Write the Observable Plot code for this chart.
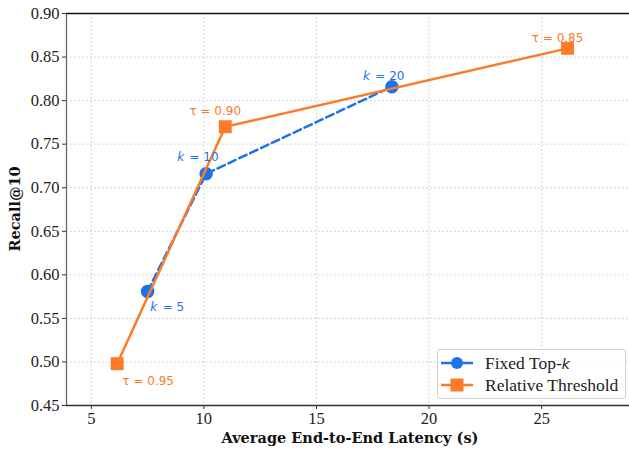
<!DOCTYPE html>
<html>
<head>
<meta charset="utf-8">
<script src="https://cdn.jsdelivr.net/npm/d3@7"></script>
<script src="https://cdn.jsdelivr.net/npm/@observablehq/plot@0.6"></script>
<style>
  html, body { margin: 0; padding: 0; background: #fff; }
  #wrap { position: relative; width: 629px; height: 449px; }
  #legend {
    position: absolute; left: 437px; top: 349px; width: 189px; height: 50px;
    border: 1px solid #d0d0d0; border-radius: 3px; background: rgba(255,255,255,0.85);
    font-family: "Liberation Serif", serif; font-size: 17.5px; color: #222; box-sizing: border-box;
  }
  .row { position: absolute; left: 3px; height: 20px; display: flex; align-items: center; }
  .row svg { margin-right: 12px; }
</style>
</head>
<body>
<div id="wrap"></div>
<script>
const seriesNames = ["Fixed Top-k", "Relative Threshold"];
const topkLatency = [7.5, 10.1, 18.35];
const topkRecall = [0.581, 0.716, 0.816];
const topkLabels = ["k = 5", "k = 10", "k = 20"];
const thrLatency = [6.15, 10.95, 26.15];
const thrRecall = [0.498, 0.770, 0.860];
const thrLabels = ["τ = 0.95", "τ = 0.90", "τ = 0.85"];
const xTicks = [5, 10, 15, 20, 25];
const yTicks = [0.45, 0.50, 0.55, 0.60, 0.65, 0.70, 0.75, 0.80, 0.85, 0.90];

const blue = "#1a73e8";
const orange = "#fb7b28";

const topk = topkLatency.map((x, i) => ({x, y: topkRecall[i], label: topkLabels[i]}));
const thr = thrLatency.map((x, i) => ({x, y: thrRecall[i], label: thrLabels[i]}));

// label placement offsets (style only)
const topkDx = [20, -8, -8];
const topkDy = [16, -17, -11];
const thrDx = [31, -10, -10];
const thrDy = [17, -16, -10];

const serif = "'Liberation Serif', serif";
const boldSerif = "'DejaVu Serif', serif";
const sans = "'DejaVu Sans', sans-serif";

const chart = Plot.plot({
  width: 629,
  height: 449,
  marginLeft: 66,
  marginRight: 0,
  marginTop: 13,
  marginBottom: 44,
  style: {fontFamily: serif, fontSize: "16.5px", color: "#222", background: "#fff"},
  x: {domain: [3.9, 28.9], ticks: xTicks, tickFormat: d => String(d)},
  y: {domain: [0.45, 0.90], ticks: yTicks, tickFormat: d3.format(".2f")},
  marks: [
    Plot.gridX(xTicks, {stroke: "#c8c8c8", strokeOpacity: 1, strokeDasharray: "1.5,2.5", strokeWidth: 1}),
    Plot.gridY(yTicks, {stroke: "#c8c8c8", strokeOpacity: 1, strokeDasharray: "1.5,2.5", strokeWidth: 1}),
    Plot.axisX(xTicks, {tickSize: 4, tickPadding: 3, fontSize: 16.5, fontFamily: serif, label: null, stroke: "#333", fill: "#222"}),
    Plot.axisY(yTicks, {tickSize: 4, tickPadding: 3, fontSize: 16.5, fontFamily: serif, label: null, stroke: "#333", fill: "#222"}),
    Plot.ruleX([3.9], {stroke: "#666", strokeWidth: 1.3}),
    Plot.ruleY([0.45], {stroke: "#333", strokeWidth: 1.3}),
    Plot.ruleY([0.90], {stroke: "#111", strokeWidth: 1.3}),
    Plot.line(topk, {x: "x", y: "y", stroke: blue, strokeWidth: 2.5, strokeDasharray: "8,4"}),
    Plot.dot(topk, {x: "x", y: "y", r: 6, fill: blue, stroke: blue, symbol: "circle"}),
    Plot.line(thr, {x: "x", y: "y", stroke: orange, strokeWidth: 2.5}),
    Plot.dot(thr, {x: "x", y: "y", r: 7.3, fill: orange, symbol: "square"}),
    ...topk.map((d, i) => Plot.text([d], {x: "x", y: "y", text: d => d.label.replace("k", ""), dx: topkDx[i] + 4, dy: topkDy[i], fill: blue, fontFamily: sans, fontSize: 12})),
    ...topk.map((d, i) => Plot.text([d], {x: "x", y: "y", text: () => "k", dx: topkDx[i] + 4 - (d.label.length - 1) * 3.6 - 3.5, dy: topkDy[i], fill: blue, fontFamily: sans, fontSize: 12, fontStyle: "italic"})),
    ...thr.map((d, i) => Plot.text([d], {x: "x", y: "y", text: "label", dx: thrDx[i], dy: thrDy[i], fill: orange, fontFamily: sans, fontSize: 12}))
  ]
});

const svg = d3.select(chart);
svg.append("text").attr("x", 350).attr("y", 443).attr("text-anchor", "middle")
  .attr("font-family", boldSerif).attr("font-weight", "bold").attr("font-size", 14.5).attr("fill", "#111")
  .text("Average End-to-End Latency (s)");
svg.append("text").attr("transform", "translate(20,209) rotate(-90)").attr("text-anchor", "middle")
  .attr("font-family", boldSerif).attr("font-weight", "bold").attr("font-size", 14.5).attr("fill", "#111")
  .text("Recall@10");

const wrap = document.getElementById("wrap");
wrap.appendChild(chart);

const legend = document.createElement("div");
legend.id = "legend";
legend.innerHTML = `
  <div class="row" style="top:3px"><svg width="32" height="14"><line x1="0" y1="7" x2="32" y2="7" stroke="${blue}" stroke-width="2.5"/><circle cx="16" cy="7" r="6" fill="${blue}"/></svg><span>Fixed Top-<i style="font-family:'DejaVu Sans',sans-serif;font-size:14px">k</i></span></div>
  <div class="row" style="top:25px"><svg width="32" height="14"><line x1="0" y1="7" x2="32" y2="7" stroke="${orange}" stroke-width="2.5"/><rect x="9.5" y="0.5" width="13" height="13" fill="${orange}"/></svg><span>Relative Threshold</span></div>`;
wrap.appendChild(legend);
</script>
</body>
</html>
